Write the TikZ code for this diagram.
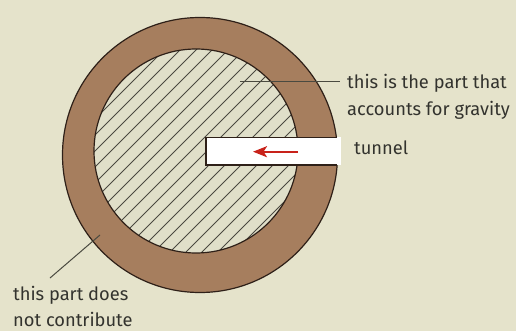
\documentclass[tikz,border=0pt]{standalone}
\usepackage{fontspec}
\setmainfont{Fira Sans}
\usetikzlibrary{arrows.meta}
\definecolor{bg}{HTML}{E5E3CB}
\definecolor{ring}{HTML}{A67E5E}
\definecolor{core}{HTML}{E0DFC9}
\definecolor{edge}{HTML}{2E2018}
\definecolor{hatch}{HTML}{4A4840}
\definecolor{leader}{HTML}{4A4A40}
\definecolor{arr}{HTML}{C8221A}
\definecolor{txt}{HTML}{33332E}
\tikzset{
  lbl/.style={text=txt, font=\fontsize{18.3}{27}\selectfont, anchor=base west, inner sep=0pt},
  leaderline/.style={draw=leader, line width=1pt},
  rim/.style={draw=edge, line width=1.2pt}
}
\begin{document}
\begin{tikzpicture}[x=1pt,y=-1pt]
\fill[bg] (0,0) rectangle (516,331);
\useasboundingbox (0,0) rectangle (516,331);
% ring
\fill[ring] (200,155) circle (137.5);
\fill[core] (196,151) circle (102);
\begin{scope}
  \clip (196,151) circle (102);
  \foreach \c in {150,166,...,560} {
    \draw[hatch, line width=0.8pt] (\c-320,320) -- (\c,0);
  }
\end{scope}
\draw[rim] (200,155) circle (137.5);
\draw[rim] (196,151) circle (102);
% tunnel
\fill[white] (206,137.5) rectangle (341,165);
\draw[edge, line width=1.1pt] (337,137.5) -- (206,137.5) -- (206,165) -- (337,165);
\coordinate (arrtail) at (298,151.7);
\coordinate (arrhead) at (253,151.7);
\draw[arr, line width=2.2pt, -{Stealth[length=14pt,width=11pt,inset=3.5pt]}] (arrtail) -- (arrhead);
% labels
\node[lbl] (grav1) at (347,88.3) {this is the part that};
\node[lbl] (grav2) at (347,115.3) {accounts for gravity};
\coordinate (gravpt) at (240,82);
\draw[leaderline] (gravpt) -- ([xshift=-7pt]grav1.west |- gravpt);
\node[lbl] (tun) at (354,155) {tunnel};
\node[lbl] (nc1) at (13,300) {this part does};
\node[lbl] (nc2) at (13,326.7) {not contribute};
\coordinate (ncpt) at (100,235);
\coordinate (ncend) at (50,278);
\draw[leaderline] (ncpt) -- (ncend);
\end{tikzpicture}
\end{document}
